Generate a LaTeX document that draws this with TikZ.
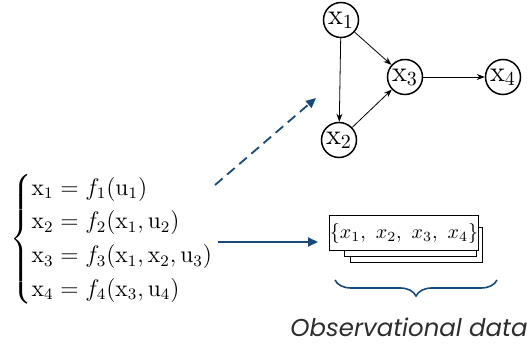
\documentclass[tikz,border=0pt]{standalone}
\usepackage{amsmath}
\usepackage{fontspec}
\newfontfamily\obsfont{Poppins}
\usetikzlibrary{arrows.meta,decorations.pathreplacing}
\definecolor{dblue}{RGB}{22,74,122}
\definecolor{txtgray}{RGB}{45,45,45}
\begin{document}
\begin{tikzpicture}[x=0.5pt,y=-0.5pt,
  var/.style={circle,draw,line width=0.75pt,minimum size=17.5pt,inner sep=0pt,font=\Large},
  edge/.style={-{Stealth[length=4pt,width=3pt]},line width=0.4pt},
  bluearrow/.style={-{Triangle[length=5pt,width=4.5pt]},line width=0.9pt,dblue},
  card/.style={draw,fill=white,line width=0.5pt,minimum width=66pt,minimum height=17.5pt,inner sep=0pt}]
\useasboundingbox (0,0) rectangle (531,347);
% graph
\node[var] (x1) at (341,20) {$\mathrm{x}_1$};
\node[var] (x2) at (339,140) {$\mathrm{x}_2$};
\node[var] (x3) at (405,77) {$\mathrm{x}_3$};
\node[var] (x4) at (503,77) {$\mathrm{x}_4$};
\draw[edge] (x1) -- (x2);
\draw[edge] (x1) -- (x3);
\draw[edge] (x2) -- (x3);
\draw[edge] (x3) -- (x4);
% equations
\node[anchor=west,inner sep=0pt,font=\large] (eqs) at (10,239) {$\begin{cases}
\mathrm{x}_1 = f_1(\mathrm{u}_1)\\
\mathrm{x}_2 = f_2(\mathrm{x}_1,\mathrm{u}_2)\\
\mathrm{x}_3 = f_3(\mathrm{x}_1,\mathrm{x}_2,\mathrm{u}_3)\\
\mathrm{x}_4 = f_4(\mathrm{x}_3,\mathrm{u}_4)
\end{cases}$};
% data stack
\node[card] (c3) at (416,245.5) {};
\node[card] (c2) at (410,239.5) {};
\node[card] (data) at (404,233.5) {$\{x_1,\ x_2,\ x_3,\ x_4\}$};
% arrows
\coordinate (ds) at (215,185);
\coordinate (de) at (316,98);
\draw[bluearrow,dashed,dash pattern=on 5pt off 3pt] (ds) -- (de);
\coordinate (ss) at (218,242);
\coordinate (se) at (318,242);
\draw[bluearrow] (ss) -- (se);
% brace
\coordinate (b1) at (335,280);
\coordinate (b2) at (497,280);
\draw[dblue,line width=0.8pt,decorate,decoration={brace,mirror,amplitude=8pt}] (b1) -- (b2);
\node[font=\obsfont\itshape\fontsize{12.2}{14}\selectfont,text=txtgray,inner sep=0pt] (obs) at (409,327) {Observational data};
\end{tikzpicture}
\end{document}
